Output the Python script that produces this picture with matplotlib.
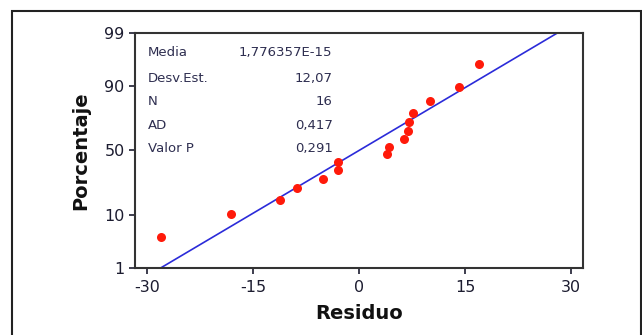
import numpy as np
import matplotlib
matplotlib.use("Agg")
import matplotlib.pyplot as plt
from matplotlib.patches import Rectangle
from statistics import NormalDist

# residuals, with their plotted percentages
residuo = [-28.0, -18.1, -11.2, -8.8, -5.1, -3.0, -2.9, 4.0,
           4.3, 6.4, 6.9, 7.1, 7.6, 10.0, 14.1, 17.0]
porcentaje = [4.3, 10.4, 16.5, 22.6, 28.7, 34.8, 40.9, 47.0,
              53.0, 59.1, 65.2, 71.3, 77.4, 83.5, 89.6, 95.7]

media = 1.776357e-15
desv_est = 12.07
stats_labels = ["Media", "Desv.Est.", "N", "AD", "Valor P"]
stats_values = ["1,776357E-15", "12,07", "16", "0,417", "0,291"]

y_ticks = [1, 10, 50, 90, 99]
x_ticks = [-30, -15, 0, 15, 30]

nd = NormalDist()


def z(p):
    return nd.inv_cdf(p / 100.0)


fig = plt.figure(figsize=(6.42, 3.35), dpi=100)
ax = fig.add_axes([0.2103, 0.2, 0.6977, 0.7015])

# outer frame around the whole graphic
fig.patches.append(Rectangle((0.0187, -0.2), 0.979, 1.167, transform=fig.transFigure,
                             fill=False, edgecolor="#222222", linewidth=1.5))

# fitted normal line (1% to 99%)
lo = media + z(1) * desv_est
hi = media + z(99) * desv_est
ax.plot([lo, hi], [z(1), z(99)], color="#2b2bd9", linewidth=1.2, zorder=2)

ax.plot(residuo, [z(p) for p in porcentaje], "o", color="#ff1a0a",
        markersize=6.5, markeredgewidth=0, zorder=3)

ax.set_xlim(-31.7, 31.7)
ax.set_ylim(z(1), z(99))
ax.set_xticks(x_ticks)
ax.set_xticklabels([str(t) for t in x_ticks])
ax.set_yticks([z(t) for t in y_ticks])
ax.set_yticklabels([str(t) for t in y_ticks])
ax.tick_params(labelsize=11.5, colors="#1c1c30", length=4, width=1.2)
ax.tick_params(axis="x", pad=5)

for s in ax.spines.values():
    s.set_color("#333333")
    s.set_linewidth(1.5)

ax.set_xlabel("Residuo", fontsize=14, fontweight="bold", color="#111111", labelpad=6)
ax.set_ylabel("Porcentaje", fontsize=14, fontweight="bold", color="#111111", labelpad=10)

# statistics box text
row_y = [0.915, 0.808, 0.71, 0.608, 0.51]
for lab, val, yy in zip(stats_labels, stats_values, row_y):
    ax.text(0.028, yy, lab, transform=ax.transAxes, fontsize=9.5,
            color="#2e2e50", va="center", ha="left")
    ax.text(0.441, yy, val, transform=ax.transAxes, fontsize=9.5,
            color="#2e2e50", va="center", ha="right")

fig.savefig("out.png", dpi=100)
